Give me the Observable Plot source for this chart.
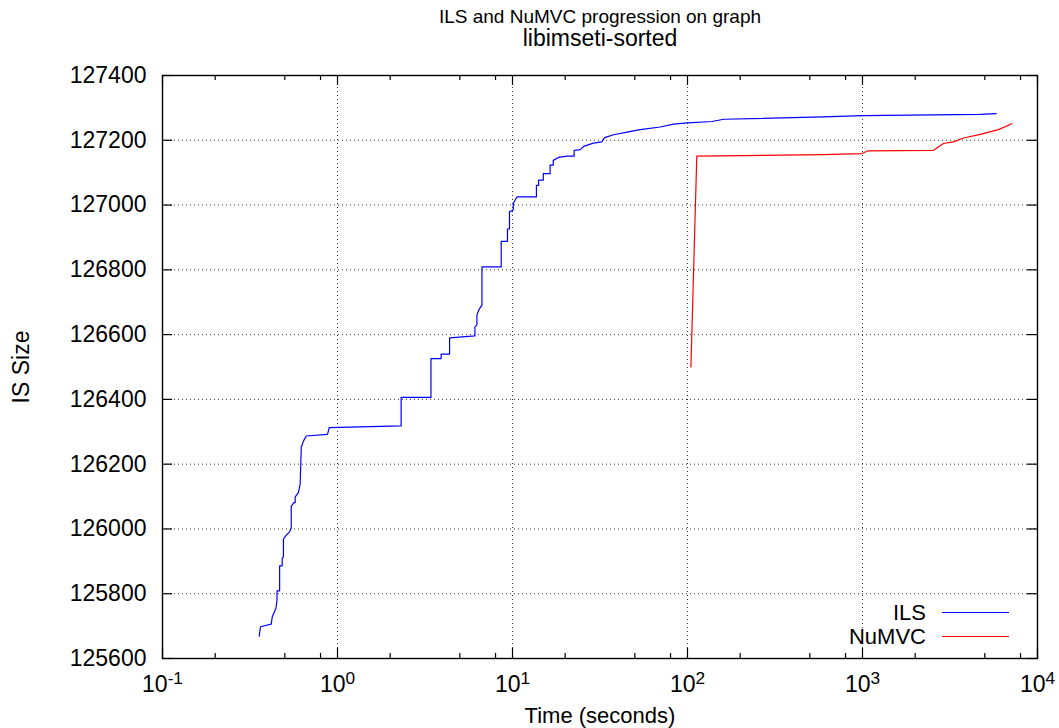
<!DOCTYPE html>
<html>
<head>
<meta charset="utf-8">
<script src="https://cdn.jsdelivr.net/npm/d3@7"></script>
<script src="https://cdn.jsdelivr.net/npm/@observablehq/plot@0.6"></script>
<style>
  body { margin: 0; background: #fff; font-family: "Liberation Sans", Arial, Helvetica, sans-serif; }
  #wrap { position: relative; width: 1059px; height: 728px; overflow: hidden; }
  .ov { position: absolute; color: #000; white-space: nowrap; }
  .t1 { left: 300px; width: 600px; text-align: center; top: 8px; font-size: 19px; line-height: 18px; }
  .t2 { left: 300px; width: 600px; text-align: center; top: 28px; font-size: 23px; line-height: 20px; }
  .lg { right: 133px; font-size: 22px; line-height: 22px; text-align: right; }
  .ln { position: absolute; left: 942px; width: 67px; height: 1px; }
</style>
</head>
<body>
<div id="wrap">
  <div id="chart"></div>
  <div class="ov t1">ILS and NuMVC progression on graph</div>
  <div class="ov t2">libimseti-sorted</div>
  <div class="ov lg" style="top:602px">ILS</div>
  <div class="ln" style="top:612px;background:#0000ff"></div>
  <div class="ov lg" style="top:626px">NuMVC</div>
  <div class="ln" style="top:636px;background:#ff0000"></div>
</div>
<script>
// ILS progression (time in seconds, independent set size)
const ilsTime = [0.357,0.363,0.418,0.424,0.445,0.451,0.451,0.467,0.467,0.483,0.483,0.491,0.491,0.504,0.532,0.544,0.544,0.563,0.573,0.573,0.598,0.612,0.621,0.64,0.663,0.877,0.897,2.31,2.31,3.42,3.42,3.91,3.91,4.37,4.37,6.10,6.10,6.26,6.26,6.43,6.69,6.69,8.62,8.62,9.36,9.36,9.61,9.61,10.1,10.1,10.6,13.7,13.7,14.1,14.1,15.0,15.0,16.4,16.4,17.1,17.1,18.3,20.5,22.5,22.5,24.4,25.5,29.0,32.4,33.6,37.8,45.1,53.7,69.8,83.2,100,138,161,598,1000,4710,5800];
const ilsSize = [125669,125698,125706,125729,125755,125780,125809,125809,125886,125886,125909,125914,125968,125978,125991,126002,126070,126081,126081,126099,126112,126140,126253,126272,126287,126292,126313,126318,126406,126406,126526,126526,126540,126540,126590,126596,126624,126630,126660,126677,126691,126809,126809,126888,126888,126926,126926,126979,126985,127005,127025,127025,127061,127061,127077,127077,127097,127097,127123,127123,127138,127147,127151,127151,127169,127171,127181,127191,127195,127208,127217,127225,127233,127241,127250,127254,127258,127265,127272,127276,127280,127282];

// NuMVC progression
const numvcTime = [104.6,113,594,993,1068,2545,2903,3311,3778,4710,5606,5985,7140];
const numvcSize = [126500,127151,127156,127159,127167,127169,127190,127195,127207,127218,127229,127233,127251];

// Axis ticks
const xMajor = [0.1,1,10,100,1000,10000];
const xMinorMult = [2,5,8];
const yTicks = [125600,125800,126000,126200,126400,126600,126800,127000,127200,127400];

const W = 1059, H = 728, mt = 75, mb = 70, ml = 162, mr = 22;
const fh = H - mt - mb, fw = W - ml - mr;
const xMinor = [];
for (let k = -1; k <= 3; k++) for (const m of xMinorMult) xMinor.push(m * Math.pow(10, k));

const ils = ilsTime.map((t, i) => ({t, s: ilsSize[i]}));
const numvc = numvcTime.map((t, i) => ({t, s: numvcSize[i]}));

const grid = {stroke: "#000", strokeOpacity: 0.8, strokeDasharray: "1,3", strokeWidth: 1};
const tk = {stroke: "#000", strokeWidth: 1.2};

const plot = Plot.plot({
  width: W, height: H,
  marginTop: mt, marginBottom: mb, marginLeft: ml, marginRight: mr,
  style: {fontFamily: "'Liberation Sans', Arial, Helvetica, sans-serif", fontSize: "23px", color: "#000", background: "#fff", overflow: "visible"},
  x: {type: "log", domain: [0.1, 10000]},
  y: {domain: [125600, 127400]},
  marks: [
    Plot.ruleX(xMajor.slice(1, -1), grid),
    Plot.ruleY(yTicks.slice(1, -1), grid),
    Plot.ruleX(xMajor, {...tk, insetTop: fh - 10}),
    Plot.ruleX(xMajor, {...tk, insetBottom: fh - 10}),
    Plot.ruleX(xMinor, {...tk, insetTop: fh - 5}),
    Plot.ruleX(xMinor, {...tk, insetBottom: fh - 5}),
    Plot.ruleY(yTicks, {...tk, insetRight: fw - 10}),
    Plot.ruleY(yTicks, {...tk, insetLeft: fw - 10}),
    Plot.line(ils, {x: "t", y: "s", stroke: "#0000ff", strokeWidth: 1.2}),
    Plot.line(numvc, {x: "t", y: "s", stroke: "#ff0000", strokeWidth: 1.2}),
    Plot.frame({stroke: "#000", strokeWidth: 1.4}),
    Plot.axisX({ticks: xMajor, tickSize: 0, tickPadding: 17, tickFormat: d => String(Math.round(Math.log10(d))),
      label: "Time (seconds)", labelAnchor: "center", labelOffset: 64, labelArrow: "none", fontSize: 22}),
    Plot.axisY({ticks: yTicks, tickSize: 0, tickPadding: 16, tickFormat: d => String(d),
      label: "IS Size", labelAnchor: "center", labelOffset: 150, labelArrow: "none"})
  ]
});

d3.select(plot).selectAll('g[aria-label="x-axis tick label"] text').each(function () {
  const e = this.textContent;
  const sel = d3.select(this);
  sel.text(null);
  sel.append("tspan").text("10");
  sel.append("tspan").attr("dy", "-0.45em").attr("font-size", "0.75em").text(e);
});
d3.select(plot).selectAll('g[aria-label="x-axis tick label"] text').attr("font-size", "23px");

document.getElementById("chart").appendChild(plot);
</script>
</body>
</html>
